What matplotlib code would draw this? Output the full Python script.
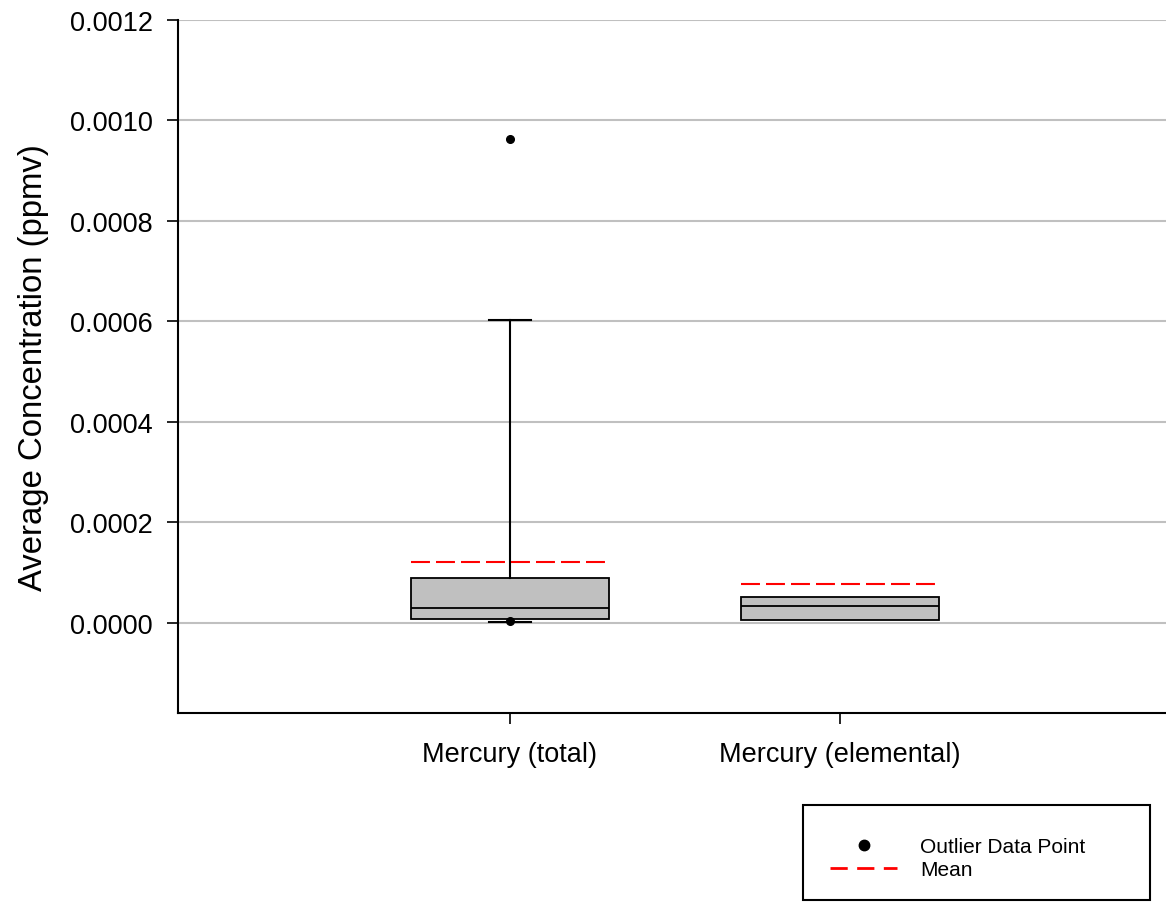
import matplotlib
matplotlib.use("Agg")
import matplotlib.pyplot as plt
from matplotlib.lines import Line2D
from matplotlib.patches import Rectangle

plt.rcParams['font.family'] = ['Liberation Sans', 'DejaVu Sans']

# Box statistics per compound (ppmv)
categories = ["Mercury (total)", "Mercury (elemental)"]
q1 = [0.0000086, 0.0000060]
median = [0.0000298, 0.0000330]
q3 = [0.0000890, 0.0000520]
whisker_low = [0.0000020, 0.0000060]
whisker_high = [0.000603, 0.0000520]
mean = [0.000122, 0.0000776]
outliers = [[0.000963, 0.0000045], []]
yticks = [0.0, 0.0002, 0.0004, 0.0006, 0.0008, 0.0010, 0.0012]

stats = []
for i, name in enumerate(categories):
    stats.append(dict(label=name, q1=q1[i], med=median[i], q3=q3[i],
                      whislo=whisker_low[i], whishi=whisker_high[i],
                      mean=mean[i], fliers=outliers[i]))

fig = plt.figure(figsize=(11.66, 9.04), dpi=100)
ax = fig.add_axes([178 / 1166, 1 - 714 / 904, 988 / 1166, (714 - 20.7) / 904])

positions = list(range(1, len(categories) + 1))
parts = ax.bxp(stats, positions=positions, widths=0.6, patch_artist=True,
               showmeans=True, meanline=True, showcaps=True,
               boxprops=dict(facecolor='#c0c0c0', edgecolor='black', linewidth=1.3),
               medianprops=dict(color='black', linewidth=1.3),
               whiskerprops=dict(color='black', linewidth=1.5),
               capprops=dict(color='black', linewidth=1.5),
               capwidths=0.125,
               flierprops=dict(marker='o', markerfacecolor='black',
                               markeredgecolor='black', markersize=5.5),
               meanprops=dict(color='red', linewidth=1.5,
                              linestyle=(0, (9.1, 2.9))))

# Whiskers that collapse onto the box edges are not drawn
for i in range(len(categories)):
    lo_cap, hi_cap = parts['caps'][2 * i], parts['caps'][2 * i + 1]
    if whisker_low[i] >= q1[i]:
        lo_cap.set_visible(False)
        parts['whiskers'][2 * i].set_visible(False)
    if whisker_high[i] <= q3[i]:
        hi_cap.set_visible(False)
        parts['whiskers'][2 * i + 1].set_visible(False)

ax.set_xlim(-0.006, 2.988)
ax.set_ylim(-0.000179, 0.0012)
ax.set_yticks(yticks)
ax.set_yticklabels([f"{v:.4f}" for v in yticks])
ax.set_xticks(positions)
ax.set_xticklabels(categories)
ax.yaxis.grid(True, color='#c0c0c0', linewidth=1.5)
ax.set_axisbelow(True)

for side in ('top', 'right'):
    ax.spines[side].set_visible(False)
for side in ('left', 'bottom'):
    ax.spines[side].set_linewidth(1.5)

ax.tick_params(axis='both', labelsize=19.5, length=8, width=1.2, direction='out')
ax.tick_params(axis='y', pad=10)
ax.tick_params(axis='x', pad=12)
ax.set_ylabel("Average Concentration (ppmv)", fontsize=23.7, labelpad=15)

# Key box below the plot
fig.patches.append(Rectangle((803 / 1166, 1 - 901 / 904), 347 / 1166, 95 / 904,
                             transform=fig.transFigure, facecolor='white',
                             edgecolor='black', linewidth=1.5))
handles = [
    Line2D([], [], linestyle='none', marker='o', color='black', markersize=7.5),
    Line2D([], [], color='red', linewidth=2, linestyle=(0, (6.2, 3.4))),
]
fig.legend(handles, ["Outlier Data Point", "Mean"], loc='center left',
           bbox_to_anchor=(820 / 1166, 1 - 859 / 904), frameon=False,
           fontsize=15, handlelength=3.2, handletextpad=1.1,
           labelspacing=0.2, borderpad=0)

fig.savefig("out.png", dpi=100)
